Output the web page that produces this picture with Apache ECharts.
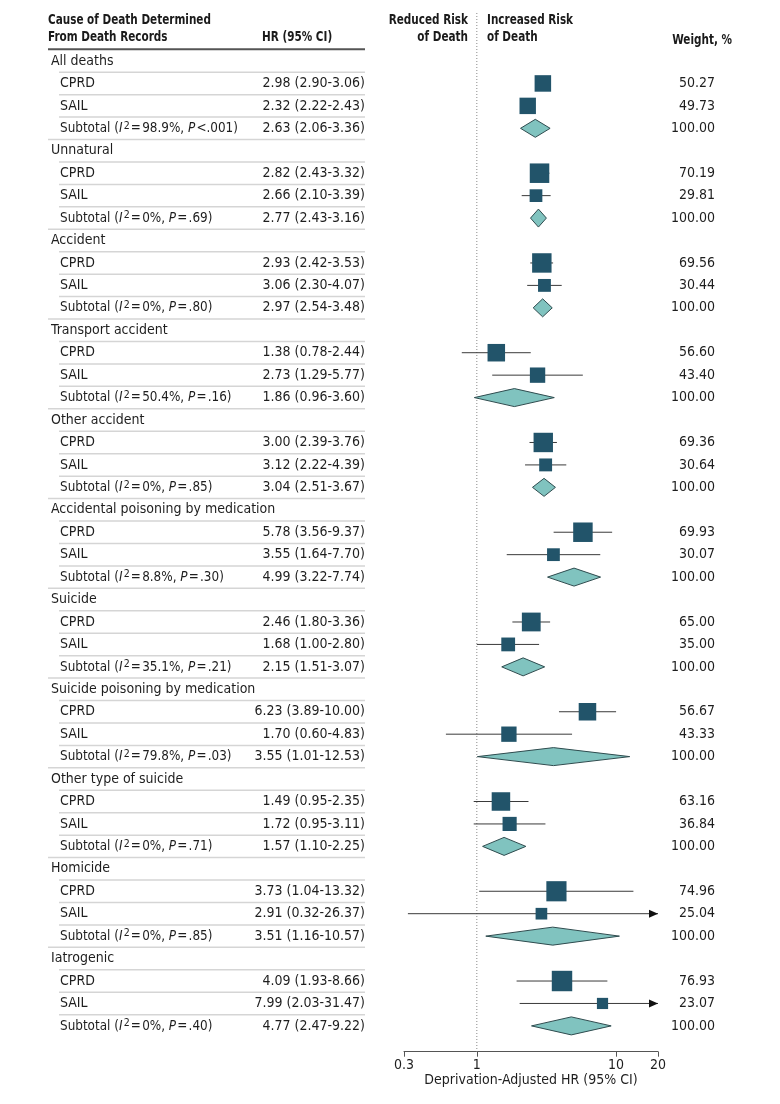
<!DOCTYPE html>
<html>
<head>
<meta charset="utf-8">
<script src="https://cdn.jsdelivr.net/npm/echarts@6/dist/echarts.min.js"></script>
<style>html,body{margin:0;padding:0;background:#fff}#c{width:780px;height:1104px}</style>
</head>
<body>
<div id="c"></div>
<script>
// ---------- data ----------
const groups = ['All deaths','Unnatural','Accident','Transport accident','Other accident','Accidental poisoning by medication','Suicide','Suicide poisoning by medication','Other type of suicide','Homicide','Iatrogenic'];
const cprdHR = [2.98,2.82,2.93,1.38,3.00,5.78,2.46,6.23,1.49,3.73,4.09];
const cprdLo = [2.90,2.43,2.42,0.78,2.39,3.56,1.80,3.89,0.95,1.04,1.93];
const cprdHi = [3.06,3.32,3.53,2.44,3.76,9.37,3.36,10.00,2.35,13.32,8.66];
const cprdW  = [50.27,70.19,69.56,56.60,69.36,69.93,65.00,56.67,63.16,74.96,76.93];
const sailHR = [2.32,2.66,3.06,2.73,3.12,3.55,1.68,1.70,1.72,2.91,7.99];
const sailLo = [2.22,2.10,2.30,1.29,2.22,1.64,1.00,0.60,0.95,0.32,2.03];
const sailHi = [2.43,3.39,4.07,5.77,4.39,7.70,2.80,4.83,3.11,26.37,31.47];
const sailW  = [49.73,29.81,30.44,43.40,30.64,30.07,35.00,43.33,36.84,25.04,23.07];
const subHR  = [2.63,2.77,2.97,1.86,3.04,4.99,2.15,3.55,1.57,3.51,4.77];
const subLo  = [2.06,2.43,2.54,0.96,2.51,3.22,1.51,1.01,1.10,1.16,2.47];
const subHi  = [3.36,3.16,3.48,3.60,3.67,7.74,3.07,12.53,2.25,10.57,9.22];
const subW   = [100,100,100,100,100,100,100,100,100,100,100];
const hetI2  = ['98.9%','0%','0%','50.4%','0%','8.8%','35.1%','79.8%','0%','0%','0%'];
const hetP   = ['<.001','= .69','= .80','= .16','= .85','= .30','= .21','= .03','= .71','= .85','= .40'];
const xTicks = [0.3, 1, 10, 20];
const xName = 'Deprivation-Adjusted HR (95% CI)';

// ---------- layout ----------
const FONT = "'DejaVu Sans Condensed','Liberation Sans Narrow','Liberation Sans',sans-serif";
const FS = 14;
const XMIN = 0.3, XMAX = 20;
const NROWS = groups.length * 4;
const TEXT = '#1e1e1e';
const HS = '\u200A';

// marks
const markData = [];
groups.forEach((g, i) => {
  const r = i * 4;
  markData.push([cprdHR[i], cprdLo[i], cprdHi[i], r + 1, 0, cprdW[i]]);
  markData.push([sailHR[i], sailLo[i], sailHi[i], r + 2, 0, sailW[i]]);
  markData.push([subHR[i], subLo[i], subHi[i], r + 3, 1, subW[i]]);
});
const tableData = [];
for (let r = 0; r < NROWS; r++) tableData.push([1, r]);

const fmtCI = (h, l, u) => h.toFixed(2) + ' (' + l.toFixed(2) + '-' + u.toFixed(2) + ')';

function tableItem(params, api) {
  const r = params.dataIndex;
  const g = Math.floor(r / 4), k = r % 4;
  const y = api.coord([1, r])[1];
  const kids = [];
  const base = {fontFamily: FONT, fontSize: FS, fill: TEXT, verticalAlign: 'middle'};
  if (k === 0) {
    kids.push({type: 'text', style: Object.assign({}, base, {x: 51, y: y, text: groups[g], align: 'left'})});
  } else {
    let label, hr, w;
    if (k === 1) { label = 'CPRD'; hr = fmtCI(cprdHR[g], cprdLo[g], cprdHi[g]); w = cprdW[g]; }
    else if (k === 2) { label = 'SAIL'; hr = fmtCI(sailHR[g], sailLo[g], sailHi[g]); w = sailW[g]; }
    else {
      label = 'Subtotal ({i|I}' + HS + '{s|2}' + HS + '=' + HS + hetI2[g] + ', {i|P}' + HS + hetP[g].replace('= ', '=' + HS) + ')';
      hr = fmtCI(subHR[g], subLo[g], subHi[g]); w = subW[g];
    }
    kids.push({type: 'text', x: 60, y: y, scaleX: k === 3 ? 0.955 : 1,
      style: Object.assign({}, base, {x: 0, y: 0, text: label, align: 'left', lineHeight: 16,
      rich: {
        i: {fontFamily: FONT, fontSize: FS, fontStyle: 'italic', fill: TEXT, lineHeight: 16},
        s: {fontFamily: FONT, fontSize: 11, fill: TEXT, verticalAlign: 'top', lineHeight: 14}
      }})});
    kids.push({type: 'text', style: Object.assign({}, base, {x: 365, y: y, text: hr, align: 'right'})});
    kids.push({type: 'text', style: Object.assign({}, base, {x: 715, y: y, text: w.toFixed(2), align: 'right'})});
  }
  if (r < NROWS - 1) {
    const ys = api.coord([1, r + 0.5])[1];
    kids.push({type: 'line', shape: {x1: k === 3 ? 48 : 59, y1: ys, x2: 365, y2: ys},
      style: {stroke: '#d5d5d5', lineWidth: 1.5}});
  }
  if (r === 0) {
    const x1 = api.coord([1, 0])[0];
    const yb = api.coord([1, 44.15])[1];
    kids.push({type: 'line', shape: {x1: x1, y1: 13, x2: x1, y2: yb},
      style: {stroke: '#8a8a8a', lineWidth: 1, lineDash: [1, 2]}});
  }
  return {type: 'group', children: kids};
}

function markItem(params, api) {
  const hr = api.value(0), lo = api.value(1), hi = api.value(2), r = api.value(3), kind = api.value(4), w = api.value(5);
  const c = api.coord([hr, r]);
  const l = api.coord([Math.max(lo, XMIN), r]);
  const h = api.coord([Math.min(hi, XMAX), r]);
  if (kind === 1) {
    return {type: 'polygon', shape: {points: [[l[0], c[1]], [c[0], c[1] - 9], [h[0], c[1]], [c[0], c[1] + 9]]},
      style: {fill: '#80c3bf', stroke: '#2f4c4f', lineWidth: 1}};
  }
  const s = 2.33 * Math.sqrt(w);
  const kids = [
    {type: 'line', shape: {x1: l[0], y1: c[1], x2: h[0], y2: c[1]}, style: {stroke: '#3a3a3a', lineWidth: 1}},
    {type: 'rect', shape: {x: c[0] - s / 2, y: c[1] - s / 2, width: s, height: s}, style: {fill: '#22546a'}}
  ];
  if (hi > XMAX) kids.push({type: 'polygon', shape: {points: [[h[0], c[1]], [h[0] - 9, c[1] - 4], [h[0] - 9, c[1] + 4]]}, style: {fill: '#111'}});
  if (lo < XMIN) kids.push({type: 'polygon', shape: {points: [[l[0], c[1]], [l[0] + 9, c[1] - 4], [l[0] + 9, c[1] + 4]]}, style: {fill: '#111'}});
  return {type: 'group', children: kids};
}

const hdr = {fontFamily: FONT, fontSize: 14, fontWeight: 'bold', fill: '#1a1a1a', verticalAlign: 'middle'};
const H = (x, y, text, align) => ({type: 'text', x: x, y: y, scaleX: 0.83,
  style: Object.assign({}, hdr, {x: 0, y: 0, text: text, align: align})});
const chart = echarts.init(document.getElementById('c'), null, {renderer: 'canvas'});
chart.setOption({
  animation: false,
  backgroundColor: '#fff',
  grid: {left: 404, right: 122, top: 49.78, bottom: 52.3, containLabel: false, outerBoundsMode: 'none'},
  xAxis: {
    type: 'log', logBase: 10, min: XMIN, max: XMAX, position: 'bottom',
    name: xName, nameLocation: 'middle', nameGap: 22, nameMoveOverlap: false,
    nameTextStyle: {fontFamily: FONT, fontSize: FS, color: TEXT},
    axisLine: {onZero: false, lineStyle: {color: '#555', width: 1}},
    axisTick: {show: true, length: 5, customValues: xTicks, lineStyle: {color: '#555'}},
    axisLabel: {customValues: xTicks, margin: 7, fontFamily: FONT, fontSize: FS, color: TEXT,
      formatter: v => String(+(+v).toPrecision(3))},
    splitLine: {show: false}, minorTick: {show: false}
  },
  yAxis: {type: 'value', inverse: true, min: -0.5, max: 44.15, show: false, splitLine: {show: false}},
  graphic: [
    H(48, 20.7, 'Cause of Death Determined', 'left'),
    H(48, 37.7, 'From Death Records', 'left'),
    H(262, 37.7, 'HR (95% CI)', 'left'),
    H(468, 20.7, 'Reduced Risk', 'right'),
    H(468, 37.7, 'of Death', 'right'),
    H(487, 20.7, 'Increased Risk', 'left'),
    H(487, 37.7, 'of Death', 'left'),
    H(732, 40, 'Weight, %', 'right'),
    {type: 'line', shape: {x1: 48, y1: 49.3, x2: 365, y2: 49.3}, style: {stroke: '#555', lineWidth: 2}}
  ],
  series: [
    {type: 'custom', name: 'table', data: tableData, renderItem: tableItem, clip: false, silent: true, z: 1},
    {type: 'custom', name: 'marks', data: markData, renderItem: markItem, clip: false, silent: true, z: 2,
      encode: {x: [0, 1, 2], y: 3}}
  ]
});
</script>
</body>
</html>
